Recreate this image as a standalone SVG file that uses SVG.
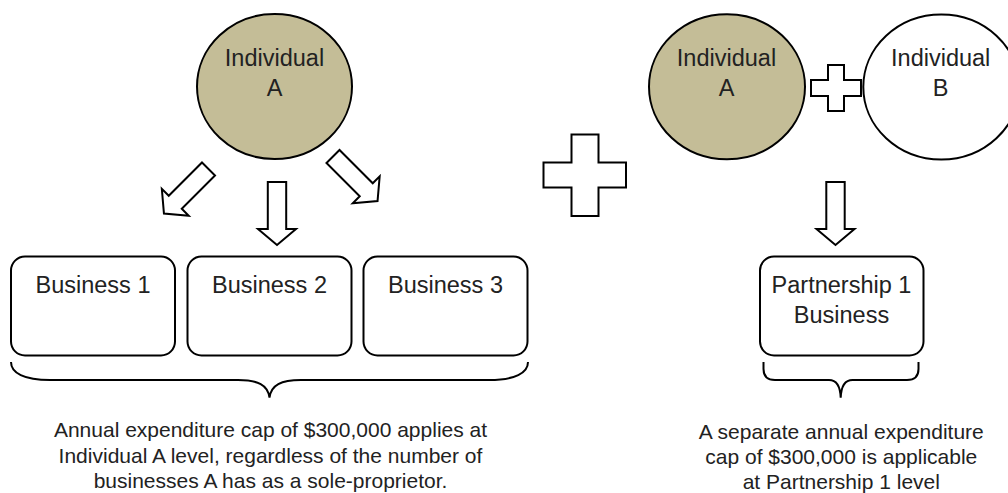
<svg xmlns="http://www.w3.org/2000/svg" width="1008" height="493" viewBox="0 0 1008 493">
  <defs>
    <style>
      .shape { stroke: #000; stroke-width: 2; stroke-linejoin: miter; }
      .tan { fill: #C4BD97; }
      .white { fill: #fff; }
      .line { fill: none; stroke: #000; stroke-width: 2; }
      .label { font-family: "Liberation Sans", Arial, sans-serif; font-size: 23.5px; fill: #222; text-anchor: middle; }
      .note { font-family: "Liberation Sans", Arial, sans-serif; font-size: 21px; fill: #222; text-anchor: middle; }
    </style>
    <!-- block arrow pointing down, tail centred at the origin -->
    <polygon id="blockArrow" points="-9.2,0 9.2,0 9.2,47 19,47 0,63 -19,47 -9.2,47"/>
  </defs>

  <rect width="1008" height="493" fill="#fff"/>

  <!-- Sole proprietor side -->
  <g id="individual-a-left">
    <ellipse class="shape tan" cx="274.5" cy="86.5" rx="77.5" ry="72.5"/>
    <text class="label" x="274.5" y="66">Individual</text>
    <text class="label" x="274.5" y="96">A</text>
  </g>

  <g id="business-1">
    <rect class="shape white" x="11" y="256.5" width="164" height="99" rx="14" ry="14"/>
    <text class="label" x="93" y="293">Business 1</text>
  </g>
  <g id="business-2">
    <rect class="shape white" x="187.5" y="256.5" width="164" height="99" rx="14" ry="14"/>
    <text class="label" x="269.5" y="293">Business 2</text>
  </g>
  <g id="business-3">
    <rect class="shape white" x="363.5" y="256.5" width="164" height="99" rx="14" ry="14"/>
    <text class="label" x="445.5" y="293">Business 3</text>
  </g>

  <!-- Large plus between the two cases -->
  <g id="plus-large">
    <polygon class="shape white" points="571.5,134.5 598.5,134.5 598.5,162.5 626,162.5 626,187.5 598.5,187.5 598.5,216 571.5,216 571.5,187.5 543.5,187.5 543.5,162.5 571.5,162.5"/>
  </g>

  <!-- Partnership side -->
  <g id="individual-a-right">
    <ellipse class="shape tan" cx="727" cy="86.8" rx="78" ry="72.5"/>
    <text class="label" x="726.5" y="66">Individual</text>
    <text class="label" x="726.5" y="96">A</text>
  </g>

  <g id="plus-small">
    <polygon class="shape white" points="828,65 844,65 844,80 861,80 861,96 844,96 844,111 828,111 828,96 811,96 811,80 828,80"/>
  </g>

  <g id="individual-b">
    <ellipse class="shape white" cx="941.3" cy="87" rx="78" ry="72.5"/>
    <text class="label" x="940.7" y="66">Individual</text>
    <text class="label" x="940.7" y="96">B</text>
  </g>

  <g id="partnership-1">
    <rect class="shape white" x="760" y="256.5" width="163.5" height="99" rx="14" ry="14"/>
    <text class="label" x="841.5" y="293">Partnership 1</text>
    <text class="label" x="841.5" y="323">Business</text>
  </g>

  <!-- Connectors: block arrows and braces -->
  <g id="connectors">
    <use href="#blockArrow" class="shape white" transform="translate(208.5,169) rotate(45)"/>
    <use href="#blockArrow" class="shape white" transform="translate(277,182)"/>
    <use href="#blockArrow" class="shape white" transform="translate(333,156.5) rotate(-45)"/>
    <use href="#blockArrow" class="shape white" transform="translate(835.5,182)"/>

    <path class="line" d="M 11 362 C 11 373, 24 380, 50 380 L 238 380 C 258 380, 268 385, 269.5 397.7 C 271 385, 281 380, 301 380 L 489 380 C 515 380, 528 373, 528 362"/>
    <path class="line" d="M 763.5 362 L 763.5 369 Q 763.5 380 775 380 L 829 380 Q 840 380 840.7 397.7 Q 841.4 380 852.5 380 L 907 380 Q 918.5 380 918.5 369 L 918.5 362"/>
  </g>

  <!-- Captions -->
  <g id="caption-sole-proprietor">
    <text class="note" x="270.5" y="437.3">Annual expenditure cap of $300,000 applies at</text>
    <text class="note" x="270.5" y="463">Individual A level, regardless of the number of</text>
    <text class="note" x="270.5" y="488.3">businesses A has as a sole-proprietor.</text>
  </g>
  <g id="caption-partnership">
    <text class="note" x="841.3" y="439">A separate annual expenditure</text>
    <text class="note" x="841.3" y="464">cap of $300,000 is applicable</text>
    <text class="note" x="841.3" y="488.5">at Partnership 1 level</text>
  </g>
</svg>
